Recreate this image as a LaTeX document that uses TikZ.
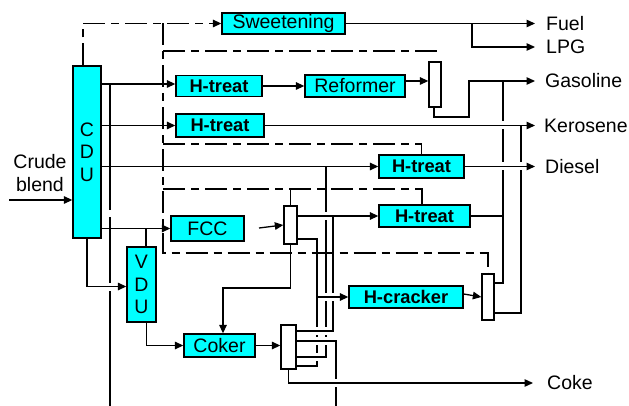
\documentclass[tikz,border=0pt]{standalone}
\usepackage{fontspec}
\setmainfont{Liberation Sans}
\usetikzlibrary{arrows.meta,calc}
\definecolor{unitcyan}{RGB}{0,255,255}
\newcommand\myrf{\fontsize{19.5}{22.5}\selectfont}
\newcommand\mybf{\fontsize{18.3}{22}\selectfont\bfseries}
\begin{document}
\begin{tikzpicture}[x=1pt,y=-1pt,
  unitbox/.style={draw, fill=unitcyan, line width=1.3pt, inner sep=0pt, font=\myrf},
  bunitbox/.style={unitbox, font=\mybf},
  colbox/.style={draw, fill=white, line width=1.3pt, inner sep=0pt},
  flow/.style={line width=1.3pt},
  arr/.style={flow, -{Triangle[length=8.5pt,width=7.5pt]}},
  dd/.style={flow, dash pattern=on 22pt off 6pt on 8pt off 6pt},
  lbl/.style={anchor=west, inner sep=0pt, font=\myrf}]
\useasboundingbox (0,0) rectangle (629,406);
\newcommand\hop[2]{\fill[white] (#1-2.8,#2-4) rectangle (#1+2.8,#2+4); \draw[flow] (#1-4,#2) -- (#1+4,#2);}
% units
\node[unitbox, minimum width=28pt, minimum height=172pt, align=center] (cdu) at (87,152) {C\\D\\U};
\node[unitbox, minimum width=29pt, minimum height=75pt, align=center] (vdu) at (141.5,284.5) {V\\D\\U};
\node[unitbox, minimum width=123pt, minimum height=21pt] (sweet) at (283.5,23.5) {Sweetening};
\node[bunitbox, minimum width=86pt, minimum height=21pt] (ht1) at (219,86) {H-treat};
\node[unitbox, minimum width=100pt, minimum height=22pt] (ref) at (355,86) {Reformer};
\node[bunitbox, minimum width=88pt, minimum height=23pt] (ht2) at (220,125.5) {H-treat};
\node[bunitbox, minimum width=85pt, minimum height=23pt] (ht3) at (421.5,166.5) {H-treat};
\node[bunitbox, minimum width=91pt, minimum height=22pt] (ht4) at (424.5,216) {H-treat};
\node[unitbox, minimum width=73pt, minimum height=25pt] (fcc) at (207.5,228.5) {FCC};
\node[bunitbox, minimum width=114pt, minimum height=22pt] (hcr) at (406,297) {H-cracker};
\node[unitbox, minimum width=71pt, minimum height=23pt] (coker) at (219.5,345.5) {Coker};
% columns
\node[colbox, minimum width=12pt, minimum height=45pt] (col1) at (435,84.5) {};
\node[colbox, minimum width=13pt, minimum height=38pt] (col2) at (290.5,225) {};
\node[colbox, minimum width=12pt, minimum height=46pt] (col3) at (488,297) {};
\node[colbox, minimum width=15pt, minimum height=44pt] (col4) at (288.5,347) {};
% labels
\node[align=center, inner sep=0pt, font=\myrf] (crude) at (40,173) {Crude\\blend};
\node[lbl] (fuel) at (546,23.5) {Fuel};
\node[lbl] (lpg) at (546,47) {LPG};
\node[lbl] (gas) at (545,81) {Gasoline};
\node[lbl] (kero) at (544,125.5) {Kerosene};
\node[lbl] (dies) at (545,166.5) {Diesel};
\node[lbl] (coke) at (547,383) {Coke};
% coordinates
\coordinate (crudein) at (9,200);
\coordinate (fuelj) at (472,23.5);
\coordinate (dv) at (163,23.5);
\coordinate (dvb) at (163,253);
\coordinate (d51) at (163,51);
\coordinate (d51e) at (436,54);
\coordinate (d144) at (163,144);
\coordinate (d189) at (163,189);
\coordinate (L1) at ($(ht1.west)+(0,-2)$);
\coordinate (b110) at (110,84);
\coordinate (b110e) at (110,406);
\coordinate (b326) at (326,166.5);
\coordinate (k326) at (326,357);
\coordinate (b146) at (146,228.5);
\coordinate (vduin) at ($(vdu.west)+(0,2)$);
\coordinate (vdub) at ($(vdu.south)+(5,0)$);
\coordinate (fccarr) at (259,228);
\coordinate (c2b) at ($(col2.east)+(0,14)$);
\coordinate (k366) at (317,366);
\coordinate (k223) at (223,288);
\coordinate (k333) at (333,331);
\coordinate (k336) at (336,341);
\coordinate (k336e) at (336,406);
\coordinate (r81) at ($(ref.east)+(0,-5)$);
\coordinate (g434) at ($(col1.south)+(-1,0)$);
\coordinate (g469) at (469,117);
\coordinate (g503) at (503,81);
\coordinate (h503) at (503,283);
\coordinate (k521) at (521,125.5);
\coordinate (h521) at (521,313);
\coordinate (hcrout) at ($(hcr.east)+(0,-3)$);
% dash-dot streams
\draw[dd, -{Triangle[length=8.5pt,width=7.5pt]}] ($(cdu.north)+(-4,0)$) |- (sweet.west);
\draw[dd] (dv) -- (dvb) -| (col3.north);
\draw[dd] (d51) -| (d51e);
\draw[dd] (d144) -| (ht3.north);
\draw[dd] (d189) -| ($(ht4.north)+(-2.5,0)$);
\draw[dd] (col2.north |- d189) -- (col2.north);
% solid streams
\draw[arr] (crudein) -- (crudein -| cdu.west);
\draw[arr] (sweet.east) -- ($(fuel.west)+(-11,0)$);
\draw[arr] (fuelj) |- ($(lpg.west)+(-11,0)$);
\draw[arr] (cdu.east |- L1) -- (L1);
\draw[flow] (b110) -- (b110e);
\draw[arr] (cdu.east |- ht2.west) -- (ht2.west);
\draw[arr] (cdu.east |- ht3.west) -- (ht3.west);
\draw[flow] (b326) -- (k326) -- (k326 -| col4.east);
\draw[arr] (cdu.east |- fcc.west) -- (fcc.west);
\draw[flow] (b146) -- (b146 |- vdu.north);
\draw[arr] (cdu.south) |- (vduin);
\draw[arr] (vdub) |- (coker.west);
\draw[arr] (fccarr) -- (col2.west);
\draw[arr] (col2.east |- ht4.west) -- (ht4.west);
\draw[flow] (c2b) -| (k366) -- (k366 -| col4.east);
\draw[arr] (k366 |- hcr.west) -- (hcr.west);
\draw[arr] (col2.south) |- (k223) -- (k223 |- coker.north);
\draw[arr] (coker.east) -- (coker.east -| col4.west);
\draw[flow] (k333 -| col4.east) -- (k333) -- (k333 |- ht4.west);
\draw[flow] (k336 -| col4.east) -- (k336) -- (k336e);
\draw[arr] (col4.south) |- ($(coke.west)+(-14,0)$);
\draw[arr] (ht1.east) -- (ht1.east -| ref.west);
\draw[arr] (r81) -- (r81 -| col1.west);
\draw[arr] (g434) |- (g469) |- ($(gas.west)+(-10,0)$);
\draw[flow] (g503) -- (h503) -- (h503 -| col3.east);
\draw[flow] (ht4.east) -- (ht4.east -| g503);
\draw[flow] (k521) -- (h521) -- (h521 -| col3.east);
\draw[arr] (hcrout) -- (col3.west);
\draw[arr] (ht2.east) -- ($(kero.west)+(-9,0)$);
\draw[arr] (ht3.east) -- ($(dies.west)+(-10,0)$);
% line hops
\fill[white] (107,210) rectangle (113,217);
\hop{110}{286.5}
\hop{503}{125.5}
\hop{503}{166.5}
\hop{521}{166.5}
\hop{326}{216}
\hop{326}{297}
\hop{326}{331}
\hop{326}{341}
\hop{317}{331}
\hop{317}{341}
\hop{317}{357}
\hop{333}{297}
\hop{336}{383}
\end{tikzpicture}
\end{document}
